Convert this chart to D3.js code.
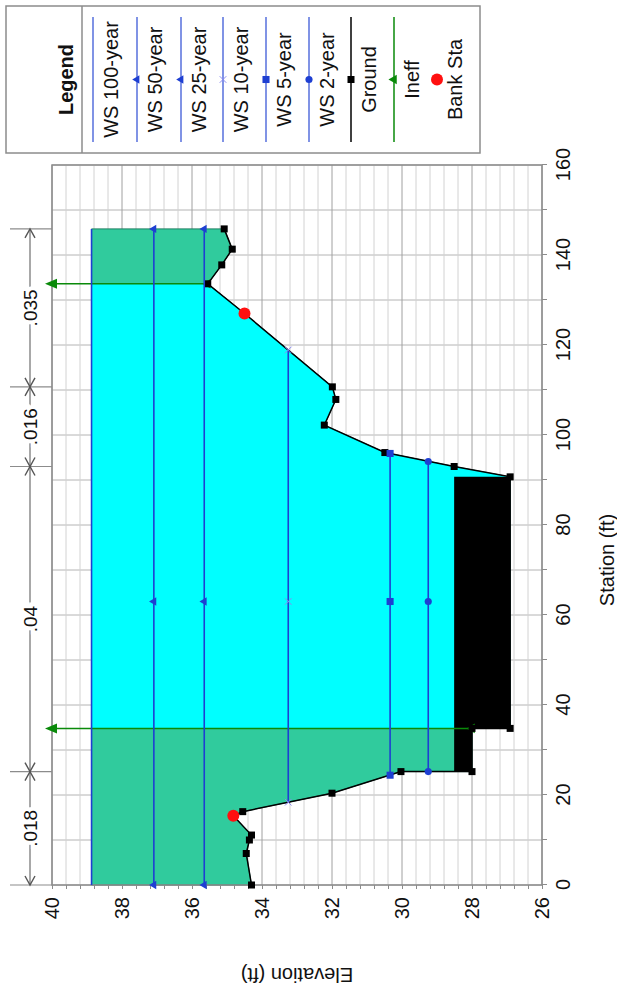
<!DOCTYPE html>
<html>
<head>
<meta charset="utf-8">
<script src="https://cdn.jsdelivr.net/npm/d3@7"></script>
<style>
    body { margin: 0; background: #fff; }
    svg { display: block; font-family: "Liberation Sans", Arial, sans-serif; }
</style>
</head>
<body>
<svg id="chart" width="617" height="993"></svg>
<script>
// ground profile (station ft, elevation ft)
const groundSta  = [0, 7.0, 10.0, 11.1, 15.4, 16.3, 20.4, 25.2, 25.2, 34.8, 34.8, 90.7, 93.0, 96.1, 102.2, 107.9, 110.7, 127.0, 133.6, 137.8, 141.3, 145.8]
const groundElev = [34.3, 34.45, 34.36, 34.3, 34.82, 34.55, 32.0, 30.03, 28.0, 28.0, 26.91, 26.91, 28.51, 30.49, 32.22, 31.89, 31.99, 34.5, 35.55, 35.15, 34.85, 35.08]

// water surfaces
const wsNames = ['WS 100-year', 'WS 50-year', 'WS 25-year', 'WS 10-year', 'WS 5-year', 'WS 2-year']
const wsElev  = [38.87, 37.09, 35.65, 33.25, 30.34, 29.25]
const wsFrom  = [0, 0, 0, 18.4, 24.4, 25.2]
const wsTo    = [145.8, 145.8, 145.8, 118.9, 95.9, 94.1]
const wsMarkerSta = 63

// bank stations
const bankSta  = [15.4, 127.0]
const bankElev = [34.82, 34.5]

// ineffective flow
const ineffSta  = [34.8, 133.6]
const ineffElev = [28.0, 35.55]
const ineffTop  = 40.2

// blocked obstruction
const blockSta  = [25.2, 90.7]
const blockElev = 28.51

// manning's n
const nBreaks = [0, 25.2, 93.0, 110.7, 145.8]
const nValues = ['.018', '.04', '.016', '.035']

const staTicks  = d3.range(0, 161, 10)
const elevTicks = d3.range(0, 36).map((i) => +(26 + i * 0.4).toFixed(1))
const elevLabels = [26, 28, 30, 32, 34, 36, 38, 40]

const BLUE = '#1e3fd2'
const TEAL = '#30cb9d'
const CYAN = '#00ffff'
const GREEN = '#0a8a0a'

const svg = d3.select('#chart')
// chart is laid out in its own frame (993 wide, 617 tall), then turned a quarter counter-clockwise
const g = svg.append('g').attr('transform', 'translate(0,993) rotate(-90)')

const x = d3.scaleLinear().domain([0, 160]).range([108, 828])
const y = d3.scaleLinear().domain([26, 40]).range([542, 52])

const ground = groundSta.map((s, i) => [s, groundElev[i]])

// grid
g.append('g').selectAll('line')
    .data(staTicks)
    .enter().append('line')
    .attr('x1', (d) => x(d)).attr('x2', (d) => x(d))
    .attr('y1', y(40)).attr('y2', y(26))
    .attr('stroke', '#b4b4b4').attr('stroke-width', 1)

g.append('g').selectAll('line')
    .data(elevTicks)
    .enter().append('line')
    .attr('x1', x(0)).attr('x2', x(160))
    .attr('y1', (d) => y(d)).attr('y2', (d) => y(d))
    .attr('stroke', (d) => elevLabels.includes(d) ? '#a0a0a0' : '#d2d2d2')
    .attr('stroke-width', 1)

// water (100-year) area
const waterPts = [[wsFrom[0], wsElev[0]], [wsTo[0], wsElev[0]]]
    .concat(ground.filter((p) => p[0] >= wsFrom[0] && p[0] <= wsTo[0]).reverse())
const area = d3.line().x((d) => x(d[0])).y((d) => y(d[1]))

svg.append('defs').append('clipPath').attr('id', 'water')
    .append('path').attr('d', area(waterPts) + 'Z')

g.append('path')
    .attr('d', area(waterPts) + 'Z')
    .attr('fill', TEAL)
    .attr('stroke', '#1d7f62').attr('stroke-width', 1)

g.append('rect')
    .attr('clip-path', 'url(#water)')
    .attr('x', x(ineffSta[0])).attr('width', x(ineffSta[1]) - x(ineffSta[0]))
    .attr('y', y(40)).attr('height', y(26) - y(40))
    .attr('fill', CYAN)

// blocked obstruction
const blockPts = [[blockSta[0], blockElev], [blockSta[1], blockElev]]
    .concat(ground.filter((p) => p[0] >= blockSta[0] && p[0] <= blockSta[1] && p[1] <= blockElev).reverse())
g.append('path').attr('d', area(blockPts) + 'Z').attr('fill', '#000')

// frame
g.append('rect')
    .attr('x', x(0)).attr('y', y(40))
    .attr('width', x(160) - x(0)).attr('height', y(26) - y(40))
    .attr('fill', 'none').attr('stroke', '#8c8c8c').attr('stroke-width', 1.5)

// axes
const xAxis = g.append('g')
    .attr('transform', `translate(0,${y(26)})`)
    .call(d3.axisBottom(x).tickValues(staTicks).tickSize(5).tickPadding(9)
        .tickFormat((d) => d % 20 === 0 ? d : ''))
const yAxis = g.append('g')
    .attr('transform', `translate(${x(0)},0)`)
    .call(d3.axisLeft(y).tickValues(elevTicks).tickSize(4).tickPadding(8)
        .tickFormat((d) => elevLabels.includes(d) ? d : ''))

for (const ax of [xAxis, yAxis]) {
    ax.select('.domain').remove()
    ax.selectAll('.tick line').attr('stroke', '#8c8c8c')
    ax.selectAll('.tick text').attr('font-size', 20).attr('fill', '#111')
        .attr('font-family', '"Liberation Sans", Arial, sans-serif')
}

g.append('text')
    .attr('x', 433).attr('y', 607)
    .attr('text-anchor', 'middle').attr('dominant-baseline', 'central')
    .attr('font-size', 20).attr('fill', '#111')
    .text('Station (ft)')

g.append('text')
    .attr('transform', `translate(18,${(y(40) + y(26)) / 2}) rotate(-90)`)
    .attr('text-anchor', 'middle').attr('dominant-baseline', 'central')
    .attr('font-size', 20).attr('fill', '#111')
    .text('Elevation (ft)')

// ineffective flow
ineffSta.forEach((s, i) => {
    g.append('line')
        .attr('x1', x(s)).attr('x2', x(s))
        .attr('y1', y(ineffElev[i])).attr('y2', y(ineffTop) + 11)
        .attr('stroke', GREEN).attr('stroke-width', 1.5)
    g.append('path')
        .attr('d', `M${x(s)},${y(ineffTop)}L${x(s) - 5},${y(ineffTop) + 12}L${x(s) + 5},${y(ineffTop) + 12}Z`)
        .attr('fill', GREEN)
    g.append('path')
        .attr('transform', `translate(${x(s)},${y(ineffElev[i])})`)
        .attr('d', d3.symbol(d3.symbolTriangle, 40)())
        .attr('fill', GREEN)
})

// ground
g.append('path')
    .attr('d', area(ground))
    .attr('fill', 'none').attr('stroke', '#000').attr('stroke-width', 1.5)

g.append('g').selectAll('rect')
    .data(ground)
    .enter().append('rect')
    .attr('x', (d) => x(d[0]) - 3.5).attr('y', (d) => y(d[1]) - 3.5)
    .attr('width', 7).attr('height', 7)
    .attr('fill', '#000')

// water surfaces
const wsSymbol = [null, d3.symbolTriangle, d3.symbolTriangle, d3.symbolTimes, d3.symbolSquare, d3.symbolCircle]
const wsSymbolSize = [0, 30, 30, 30, 50, 40]

const drawSymbol = (sel, i, cx, cy) => {
    if (!wsSymbol[i]) return
    const p = sel.append('path')
        .attr('transform', `translate(${cx},${cy})`)
        .attr('d', d3.symbol(wsSymbol[i], wsSymbolSize[i])())
    if (wsSymbol[i] === d3.symbolTimes) p.attr('fill', 'none').attr('stroke', '#8a8af0').attr('stroke-width', 1)
    else p.attr('fill', BLUE)
}

wsElev.forEach((e, i) => {
    g.append('line')
        .attr('x1', x(wsFrom[i])).attr('x2', x(wsTo[i]))
        .attr('y1', y(e)).attr('y2', y(e))
        .attr('stroke', BLUE).attr('stroke-width', 1.6)
    for (const s of [wsFrom[i], wsMarkerSta, wsTo[i]]) drawSymbol(g, i, x(s), y(e))
})

// bank stations
g.append('g').selectAll('circle')
    .data(bankSta)
    .enter().append('circle')
    .attr('cx', (d) => x(d)).attr('cy', (d, i) => y(bankElev[i]))
    .attr('r', 6).attr('fill', '#ff1010')

// manning's n
const nY = 30
g.append('line')
    .attr('x1', x(nBreaks[0])).attr('x2', x(nBreaks[nBreaks.length - 1]))
    .attr('y1', nY).attr('y2', nY)
    .attr('stroke', '#6e6e6e').attr('stroke-width', 1.2)
g.append('g').selectAll('line')
    .data(nBreaks)
    .enter().append('line')
    .attr('x1', (d) => x(d)).attr('x2', (d) => x(d))
    .attr('y1', 10).attr('y2', y(40))
    .attr('stroke', '#8c8c8c').attr('stroke-width', 1.2)
nValues.forEach((v, i) => {
    const a = x(nBreaks[i]), b = x(nBreaks[i + 1])
    g.append('path')
        .attr('d', `M${a + 9},${nY - 5}L${a},${nY}L${a + 9},${nY + 5}M${b - 9},${nY - 5}L${b},${nY}L${b - 9},${nY + 5}`)
        .attr('fill', 'none').attr('stroke', '#555').attr('stroke-width', 1.4)
    g.append('text')
        .attr('x', (a + b) / 2).attr('y', nY)
        .attr('text-anchor', 'middle').attr('dominant-baseline', 'central')
        .attr('font-size', 19).attr('fill', '#111')
        .attr('stroke', '#fff').attr('stroke-width', 8).attr('paint-order', 'stroke')
        .text(v)
})

// legend
const lg = g.append('g')
const LX0 = 840, LX1 = 987, LCX = (LX0 + LX1) / 2
lg.append('rect')
    .attr('x', LX0).attr('y', 6).attr('width', LX1 - LX0).attr('height', 474)
    .attr('fill', '#fff').attr('stroke', '#8c8c8c').attr('stroke-width', 1.5)
lg.append('line')
    .attr('x1', LX0).attr('x2', LX1).attr('y1', 82).attr('y2', 82)
    .attr('stroke', '#8c8c8c').attr('stroke-width', 1.5)
lg.append('text')
    .attr('x', LCX).attr('y', 66)
    .attr('text-anchor', 'middle').attr('dominant-baseline', 'central')
    .attr('font-size', 20).attr('font-weight', 'bold').attr('fill', '#111')
    .text('Legend')

const legendRows = wsNames.concat(['Ground', 'Ineff', 'Bank Sta'])
const rowY = [93, 137, 181, 223, 266, 309, 351, 394, 437]
const legendColor = [BLUE, BLUE, BLUE, BLUE, BLUE, BLUE, '#000', GREEN]

legendRows.forEach((name, i) => {
    const ly = rowY[i]
    if (i < 8) {
        lg.append('line')
            .attr('x1', 851).attr('x2', 976).attr('y1', ly).attr('y2', ly)
            .attr('stroke', legendColor[i]).attr('stroke-width', 1.5)
            .attr('opacity', i < 6 ? 0.75 : 1)
    }
    if (i < 6) drawSymbol(lg, i, LCX, ly)
    if (i === 6) lg.append('rect').attr('x', LCX - 3.5).attr('y', ly - 3.5).attr('width', 7).attr('height', 7).attr('fill', '#000')
    if (i === 7) lg.append('path').attr('transform', `translate(${LCX},${ly})`).attr('d', d3.symbol(d3.symbolTriangle, 40)()).attr('fill', GREEN)
    if (i === 8) lg.append('circle').attr('cx', LCX).attr('cy', ly).attr('r', 6).attr('fill', '#ff1010')
    lg.append('text')
        .attr('x', LCX).attr('y', ly + 18)
        .attr('text-anchor', 'middle').attr('dominant-baseline', 'central')
        .attr('font-size', 20).attr('fill', '#111')
        .text(name)
})
</script>
</body>
</html>
